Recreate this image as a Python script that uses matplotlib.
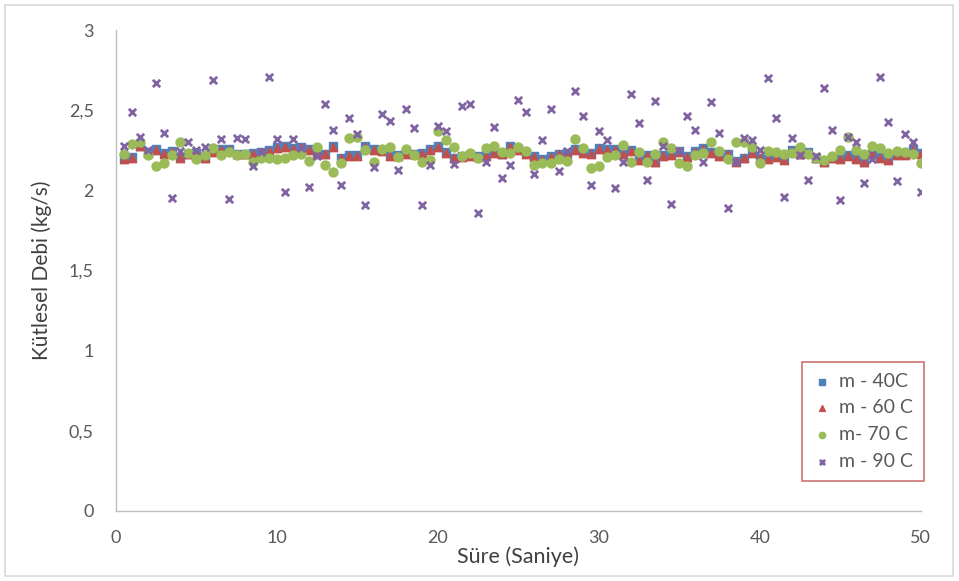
import matplotlib
matplotlib.use("Agg")
import matplotlib.pyplot as plt
from matplotlib.patches import Rectangle
import numpy as np

# ---- data ----
t = [0.5 * (k + 1) for k in range(100)]

m40 = [2.20, 2.21, 2.28, 2.24, 2.26, 2.235, 2.245, 2.21, 2.23, 2.235,
       2.205, 2.245, 2.26, 2.26, 2.23, 2.23, 2.235, 2.24, 2.25, 2.27,
       2.275, 2.265, 2.27, 2.26, 2.235, 2.23, 2.275, 2.205, 2.22, 2.22,
       2.275, 2.26, 2.25, 2.22, 2.22, 2.235, 2.23, 2.235, 2.26, 2.275,
       2.24, 2.205, 2.215, 2.22, 2.215, 2.22, 2.24, 2.23, 2.275, 2.26,
       2.235, 2.215, 2.194, 2.215, 2.23, 2.235, 2.26, 2.24, 2.235, 2.265,
       2.26, 2.26, 2.23, 2.25, 2.195, 2.22, 2.18, 2.22, 2.225, 2.245,
       2.215, 2.245, 2.265, 2.24, 2.22, 2.23, 2.185, 2.205, 2.24, 2.205,
       2.20, 2.215, 2.195, 2.25, 2.23, 2.24, 2.205, 2.18, 2.205, 2.20,
       2.22, 2.20, 2.18, 2.23, 2.21, 2.195, 2.225, 2.225, 2.26, 2.235]

m60 = [2.195, 2.205, 2.275, 2.235, 2.255, 2.23, 2.24, 2.205, 2.225, 2.225,
       2.20, 2.24, 2.255, 2.255, 2.225, 2.225, 2.23, 2.235, 2.245, 2.265,
       2.27, 2.26, 2.265, 2.255, 2.23, 2.225, 2.27, 2.20, 2.215, 2.215,
       2.27, 2.255, 2.245, 2.215, 2.215, 2.23, 2.225, 2.23, 2.255, 2.27,
       2.235, 2.20, 2.21, 2.215, 2.21, 2.215, 2.235, 2.225, 2.27, 2.255,
       2.23, 2.21, 2.19, 2.21, 2.225, 2.23, 2.255, 2.235, 2.23, 2.26,
       2.255, 2.255, 2.225, 2.245, 2.19, 2.215, 2.175, 2.215, 2.22, 2.24,
       2.21, 2.24, 2.26, 2.235, 2.215, 2.225, 2.18, 2.20, 2.235, 2.20,
       2.195, 2.21, 2.19, 2.245, 2.225, 2.235, 2.20, 2.175, 2.20, 2.195,
       2.215, 2.195, 2.175, 2.225, 2.205, 2.19, 2.22, 2.22, 2.255, 2.23]

m70 = [2.225, 2.29, 2.30, 2.22, 2.15, 2.17, 2.22, 2.30, 2.235, 2.195,
       2.22, 2.265, 2.22, 2.24, 2.22, 2.225, 2.18, 2.20, 2.20, 2.195,
       2.20, 2.22, 2.23, 2.185, 2.27, 2.16, 2.113, 2.17, 2.33, 2.335,
       2.255, 2.18, 2.258, 2.27, 2.21, 2.26, 2.22, 2.18, 2.19, 2.37,
       2.315, 2.27, 2.215, 2.235, 2.20, 2.265, 2.28, 2.24, 2.235, 2.27,
       2.247, 2.16, 2.17, 2.17, 2.195, 2.185, 2.32, 2.265, 2.14, 2.155,
       2.21, 2.22, 2.285, 2.18, 2.24, 2.18, 2.225, 2.30, 2.265, 2.17,
       2.15, 2.22, 2.235, 2.30, 2.247, 2.197, 2.30, 2.30, 2.27, 2.17,
       2.247, 2.24, 2.225, 2.235, 2.27, 2.225, 2.20, 2.19, 2.215, 2.255,
       2.335, 2.255, 2.225, 2.28, 2.265, 2.235, 2.245, 2.24, 2.225, 2.17]

m90 = [2.28, 2.49, 2.335, 2.25, 2.67, 2.36, 1.955, 2.245, 2.30, 2.25,
       2.27, 2.69, 2.32, 1.945, 2.33, 2.32, 2.15, 2.24, 2.705, 2.32,
       1.99, 2.32, 2.265, 2.02, 2.215, 2.54, 2.375, 2.033, 2.45, 2.355,
       1.91, 2.145, 2.475, 2.435, 2.13, 2.51, 2.39, 1.91, 2.16, 2.40,
       2.37, 2.165, 2.53, 2.54, 1.86, 2.18, 2.395, 2.08, 2.16, 2.565,
       2.49, 2.10, 2.315, 2.51, 2.12, 2.245, 2.62, 2.465, 2.033, 2.37,
       2.315, 2.013, 2.18, 2.60, 2.42, 2.065, 2.56, 2.275, 1.915, 2.245,
       2.465, 2.375, 2.18, 2.555, 2.36, 1.89, 2.18, 2.33, 2.315, 2.25,
       2.70, 2.45, 1.96, 2.33, 2.22, 2.065, 2.215, 2.64, 2.375, 1.94,
       2.335, 2.30, 2.045, 2.195, 2.705, 2.425, 2.06, 2.35, 2.30, 1.99]

yticks = [0, 0.5, 1, 1.5, 2, 2.5, 3]
ytick_labels = ["0", "0,5", "1", "1,5", "2", "2,5", "3"]
xticks = [0, 10, 20, 30, 40, 50]

plt.rcParams['font.family'] = ['Lato', 'DejaVu Sans']

fig = plt.figure(figsize=(9.59, 5.81), dpi=100)
ax = fig.add_axes([0.121, 0.1205, 0.839, 0.8275])

ax.scatter(t, m40, marker='s', s=30, color='#4F81BD', label='m - 40C', zorder=3)
ax.scatter(t, m60, marker='^', s=36, color='#C0504D', label='m - 60 C', zorder=4)
ax.scatter(t, m70, marker='o', s=42, color='#9BBB59', label='m- 70 C', zorder=5)
ax.scatter(t, m90, marker='x', s=28, color='#8064A2', linewidths=2,
           label='m - 90 C', zorder=6)

ax.set_xlim(0, 50)
ax.set_ylim(0, 3)
ax.set_xticks(xticks)
ax.set_yticks(yticks)
ax.set_yticklabels(ytick_labels)
ax.tick_params(axis='both', length=0, colors='#595959', labelsize=13)
ax.tick_params(axis='y', pad=16)
ax.tick_params(axis='x', pad=14)

for s in ['top', 'right']:
    ax.spines[s].set_visible(False)
for s in ['left', 'bottom']:
    ax.spines[s].set_color('#bfbfbf')
    ax.spines[s].set_linewidth(1.0)

ax.set_ylabel('Kütlesel Debi (kg/s)', fontsize=15, color='#404040', labelpad=12)
fig.text(0.5405, 0.041, 'Süre (Saniye)', ha='center', va='center',
         fontsize=15.5, color='#404040')

leg = fig.legend(loc='upper left', bbox_to_anchor=(0.8363, 0.377),
                 bbox_transform=fig.transFigure,
                 fontsize=14, frameon=True, fancybox=False, handletextpad=0.35,
                 borderpad=0.55, labelspacing=0.5, markerscale=0.7,
                 handlelength=1.0, borderaxespad=0.0)
leg.get_frame().set_edgecolor('#C0504D')
leg.get_frame().set_linewidth(1.2)
for txt in leg.get_texts():
    txt.set_color('#595959')

fig.patches.append(Rectangle((0.005, 0.008), 0.989, 0.984, transform=fig.transFigure,
                             fill=False, edgecolor='#d9d9d9', linewidth=1.2))

fig.savefig('out.png', dpi=100)
